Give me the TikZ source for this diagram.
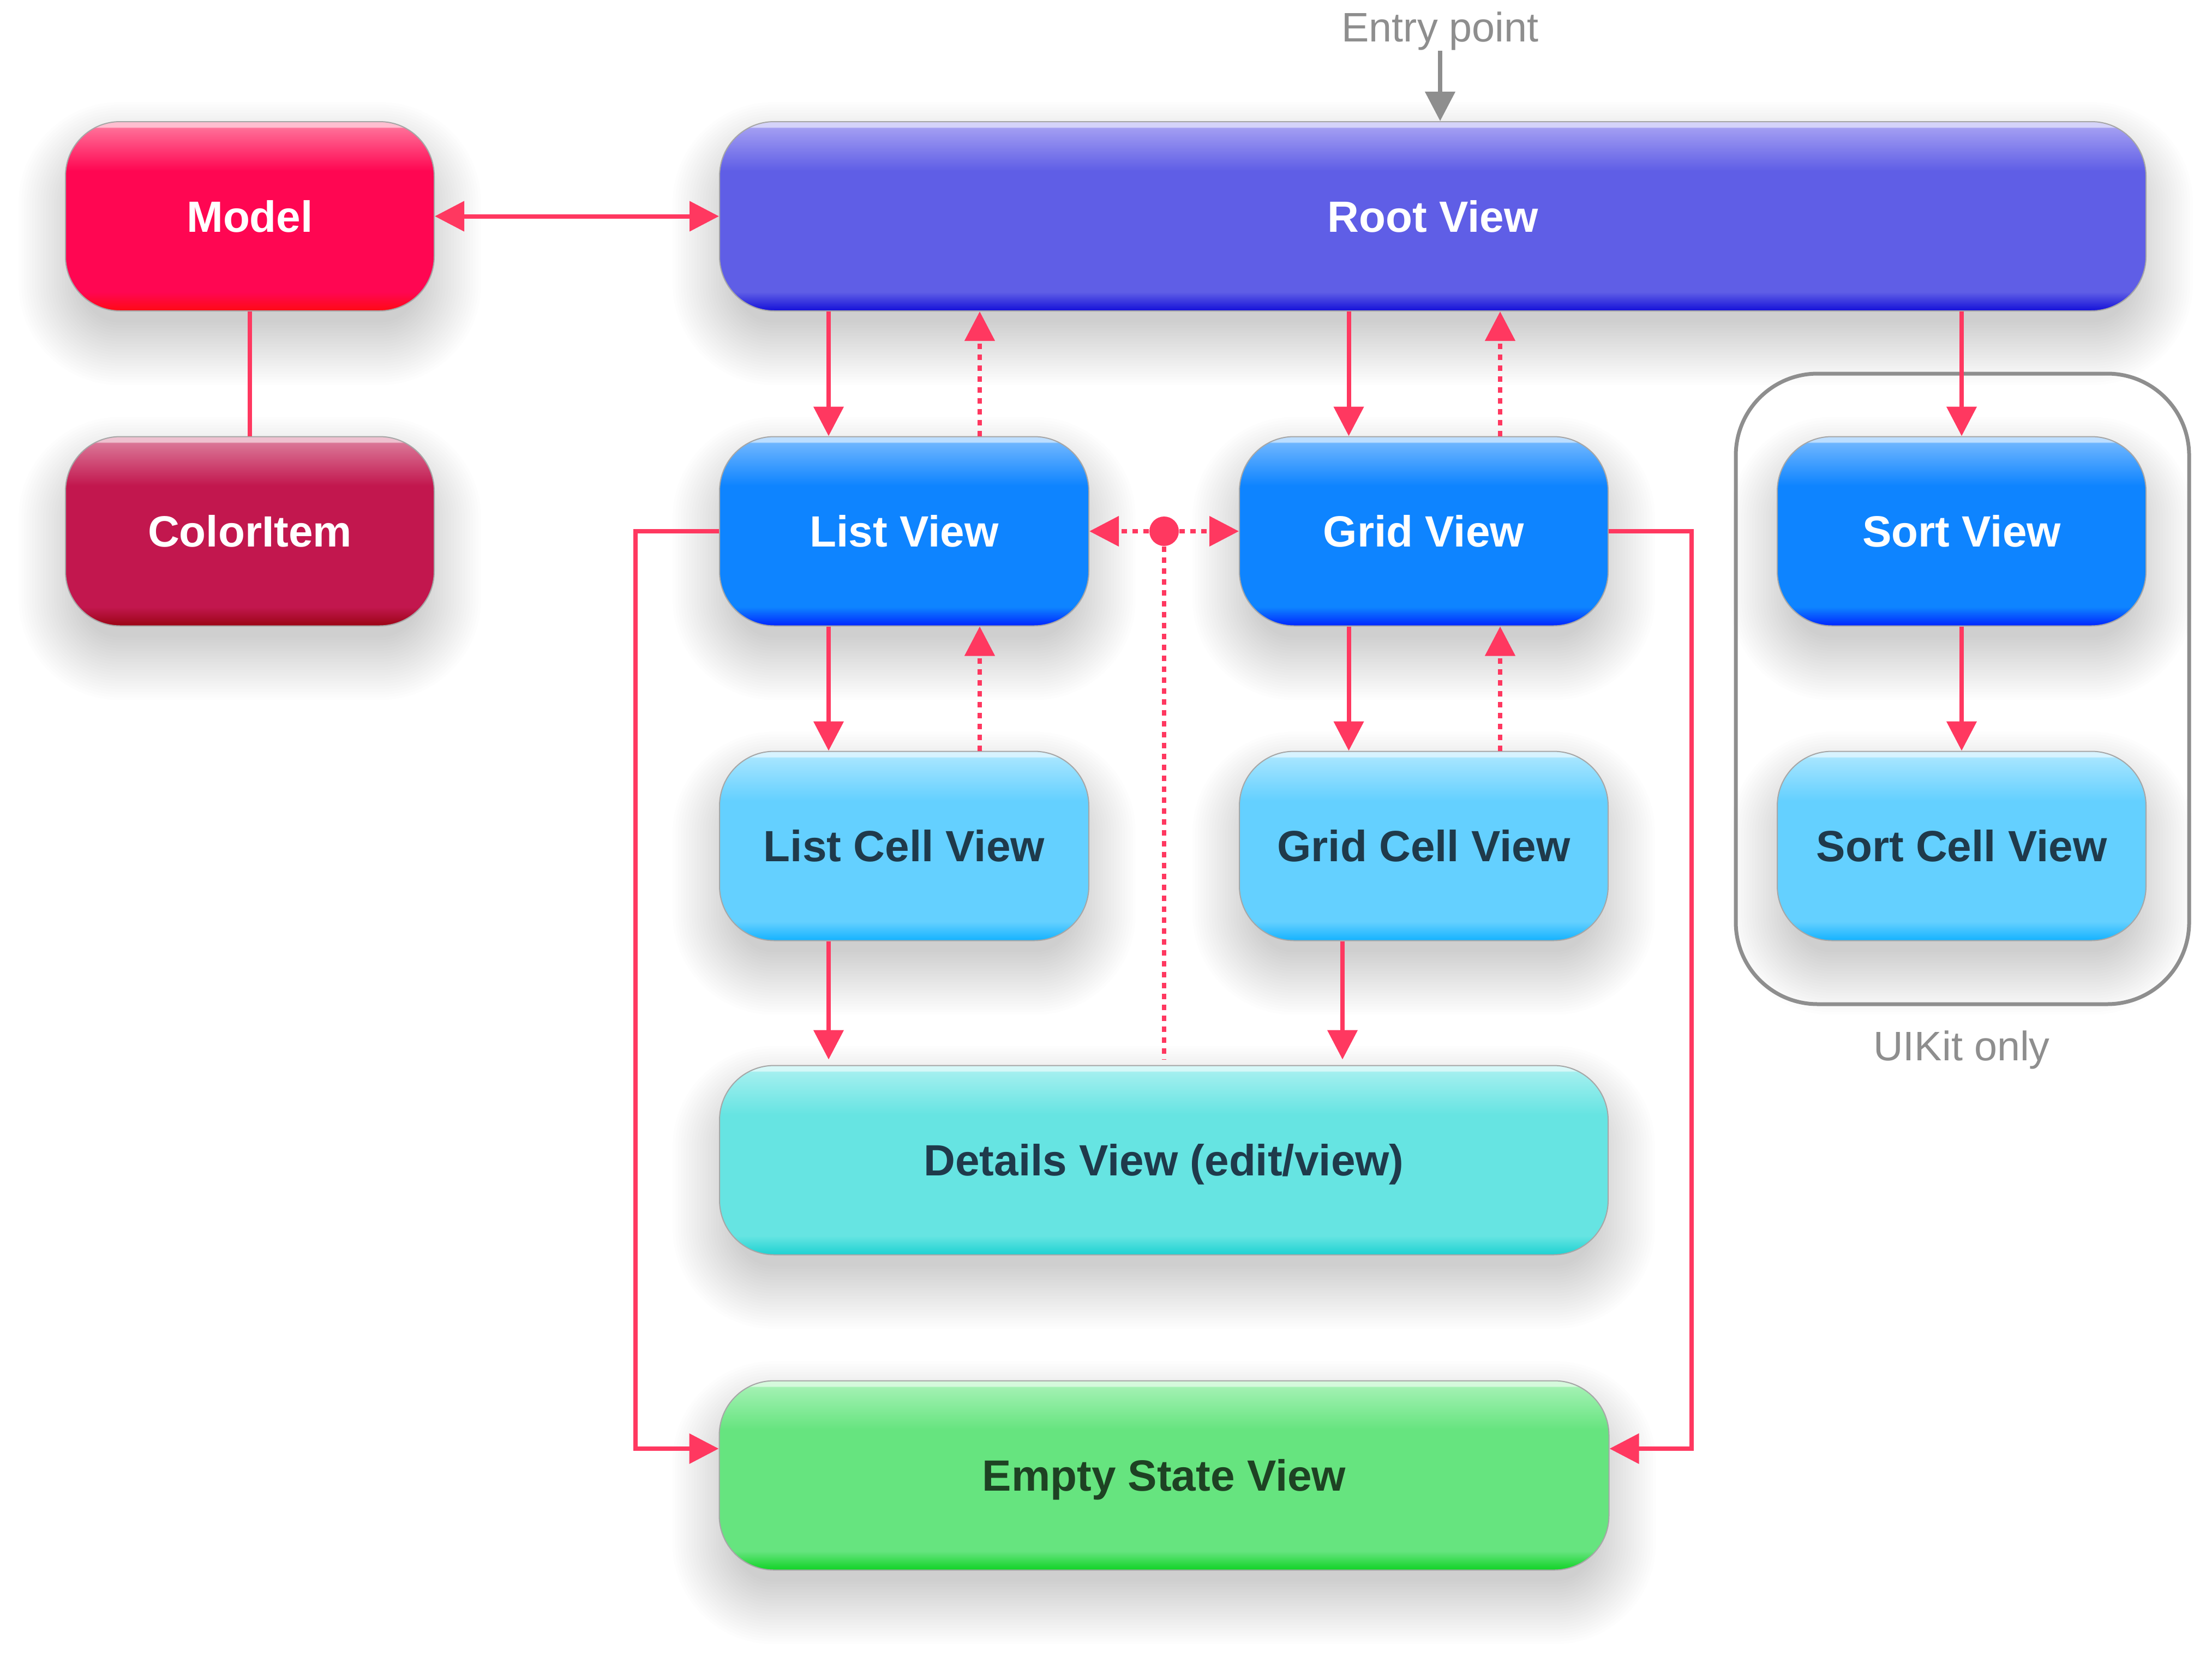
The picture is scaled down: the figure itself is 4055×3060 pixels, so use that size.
\documentclass[tikz,border=0pt]{standalone}
\usepackage{fontspec}
\setmainfont{Liberation Sans}
\usetikzlibrary{arrows.meta,calc}

\definecolor{apink}{HTML}{FF3860}
\definecolor{agray}{HTML}{8E8E8E}
\definecolor{darktxt}{HTML}{1F3A4B}
\definecolor{greentxt}{HTML}{1E4223}

\definecolor{mTop}{HTML}{FF6E97}\definecolor{mMid}{HTML}{FF0652}\definecolor{mBot}{HTML}{FF0A14}
\definecolor{cTop}{HTML}{DA7596}\definecolor{cMid}{HTML}{C2174E}\definecolor{cBot}{HTML}{9B0414}
\definecolor{rTop}{HTML}{A29DF2}\definecolor{rMid}{HTML}{5F5EE6}\definecolor{rBot}{HTML}{1410D8}
\definecolor{bTop}{HTML}{6DB5FF}\definecolor{bMid}{HTML}{0E84FF}\definecolor{bBot}{HTML}{0025FF}
\definecolor{yTop}{HTML}{A6E5FF}\definecolor{yMid}{HTML}{64D0FF}\definecolor{yBot}{HTML}{14B2FF}
\definecolor{tTop}{HTML}{A3EFEF}\definecolor{tMid}{HTML}{66E4E2}\definecolor{tBot}{HTML}{1DD2D2}
\definecolor{gTop}{HTML}{A2F1B2}\definecolor{gMid}{HTML}{66E47F}\definecolor{gBot}{HTML}{10D325}

\newcommand\mkshading[4]{%
  \colorlet{#1hi}{#2!45!white}%
  \pgfdeclareverticalshading{#1}{100bp}{color(0bp)=(#4); color(25bp)=(#4); color(30bp)=(#3); color(62bp)=(#3); color(73.3bp)=(#2); color(73.6bp)=(#1hi); color(100bp)=(#1hi)}}
\mkshading{modelsh}{mTop}{mMid}{mBot}
\mkshading{colorsh}{cTop}{cMid}{cBot}
\mkshading{rootsh}{rTop}{rMid}{rBot}
\mkshading{bluesh}{bTop}{bMid}{bBot}
\mkshading{cyansh}{yTop}{yMid}{yBot}
\mkshading{tealsh}{tTop}{tMid}{tBot}
\mkshading{greensh}{gTop}{gMid}{gBot}

\pgfdeclarelayer{bgwhite}
\pgfdeclarelayer{shadowlayer}
\pgfsetlayers{bgwhite,shadowlayer,main}

\tikzset{
  box/.style={rectangle, rounded corners=10mm, minimum height=34.7mm, inner sep=0pt,
    draw=black!35, line width=0.2mm,
    font=\fontsize{22.8}{27}\selectfont\bfseries, text height=5.7mm, text depth=0pt,
    shade},
  conn/.style={draw=apink, line width=0.8mm, -{Triangle[length=5.4mm,width=5.4mm]}},
  dotconn/.style={conn, dash pattern=on 1mm off 1mm},
  plainline/.style={draw=apink, line width=0.8mm},
  note/.style={font=\fontsize{21.5}{26}\selectfont, text=agray, inner sep=0pt},
  shadowpiece/.style={fill=black, opacity=0.008},
}

\begin{document}
\begin{tikzpicture}[x=0.1mm, y=-0.1mm]
\useasboundingbox (0,0) rectangle (4055,3060);
\begin{pgfonlayer}{bgwhite}
\fill[white] (0,0) rectangle (4055,3060);
\end{pgfonlayer}

% nodes
\node[box, shading=modelsh, text=white, minimum width=67.6mm] (model) at (458,396.5) {Model};
\node[box, shading=colorsh, text=white, minimum width=67.6mm] (coloritem) at (458,974) {ColorItem};
\node[box, shading=rootsh, text=white, minimum width=261.5mm] (root) at (2626.5,396.5) {Root View};
\node[box, shading=bluesh, text=white, minimum width=67.7mm] (list) at (1657.5,974) {List View};
\node[box, shading=bluesh, text=white, minimum width=67.6mm] (grid) at (2610,974) {Grid View};
\node[box, shading=bluesh, text=white, minimum width=67.6mm] (sort) at (3596,974) {Sort View};
\node[box, shading=cyansh, text=darktxt, minimum width=67.7mm] (listcell) at (1657.5,1551) {List Cell View};
\node[box, shading=cyansh, text=darktxt, minimum width=67.6mm] (gridcell) at (2610,1551) {Grid Cell View};
\node[box, shading=cyansh, text=darktxt, minimum width=67.6mm] (sortcell) at (3596,1551) {Sort Cell View};
\node[box, shading=tealsh, text=darktxt, minimum width=162.9mm] (details) at (2133.5,2127) {Details View (edit/view)};
\node[box, shading=greensh, text=greentxt, minimum width=163.1mm] (empty) at (2134,2705) {Empty State View};

% soft shadows under the boxes
\begin{pgfonlayer}{shadowlayer}
\foreach \n in {model,coloritem,root,list,grid,sort,listcell,gridcell,sortcell,details,empty}{
  \foreach \i in {0,...,23}{
    \pgfmathsetmacro\dd{0.5*\i-3}
    \pgfmathsetmacro\mdd{-\dd}
    \pgfmathsetmacro\rr{10+\dd}
    \pgfmathsetmacro\boty{-\dd-5}
    \pgfmathsetmacro\topy{\dd-5}
    \fill[shadowpiece, rounded corners=\rr mm] ([xshift=\mdd mm, yshift=\boty mm]\n.south west) rectangle ([xshift=\dd mm, yshift=\topy mm]\n.north east);
  }
}
\end{pgfonlayer}

% UIKit group
\node[draw=agray, line width=0.7mm, rounded corners=15mm, minimum width=83.1mm, minimum height=115.6mm, inner sep=0pt] (uikit) at (3597.5,1263) {};
\node[note, anchor=base] (uikitlabel) at (3596,1944) {UIKit only};

% entry point
\node[note, anchor=base] (entry) at (2640,77) {Entry point};
\draw[draw=agray, line width=0.8mm, -{Triangle[length=5.4mm,width=5.4mm]}] (entry.south) -- (entry.south |- root.north);

% coordinates for vertical connectors
\coordinate (lA) at ($(list.north)+(-138.5,0)$);
\coordinate (lB) at ($(list.north)+(138.5,0)$);
\coordinate (gA) at ($(grid.north)+(-137.5,0)$);
\coordinate (gB) at ($(grid.north)+(140,0)$);
\coordinate (gC) at ($(grid.north)+(-149,0)$);
\coordinate (eL) at ([yshift=4.9mm]empty.west);
\coordinate (eR) at ([yshift=4.9mm]empty.east);

% model connections
\draw[conn, {Triangle[length=5.4mm,width=5.4mm]}-{Triangle[length=5.4mm,width=5.4mm]}] (model.east) -- (root.west);
\draw[plainline] (model.south) -- (coloritem.north);

% root to children
\draw[conn] (lA |- root.south) -- (lA |- list.north);
\draw[dotconn] (lB |- list.north) -- (lB |- root.south);
\draw[conn] (gA |- root.south) -- (gA |- grid.north);
\draw[dotconn] (gB |- grid.north) -- (gB |- root.south);
\draw[conn] (sort.north |- root.south) -- (sort.north);

% views to cells
\draw[conn] (lA |- list.south) -- (lA |- listcell.north);
\draw[dotconn] (lB |- listcell.north) -- (lB |- list.south);
\draw[conn] (gA |- grid.south) -- (gA |- gridcell.north);
\draw[dotconn] (gB |- gridcell.north) -- (gB |- grid.south);
\draw[conn] (sort.south) -- (sortcell.north);

% cells to details
\draw[conn, shorten >=1mm] (lA |- listcell.south) -- (lA |- details.north);
\draw[conn, shorten >=1mm] (gC |- gridcell.south) -- (gC |- details.north);

% hub between list and grid
\node[circle, fill=apink, minimum size=5.4mm, inner sep=0pt] (hub) at (2134,974) {};
\draw[dotconn] (hub) -- (list.east);
\draw[dotconn] (hub) -- (grid.west);
\draw[plainline, dash pattern=on 1mm off 1mm, shorten >=1mm] (hub) -- (hub |- details.north);

% empty state connections
\draw[conn] (list.west) -- ++(-153,0) |- (eL);
\draw[conn] (grid.east) -- ++(152,0) |- (eR);
\end{tikzpicture}
\end{document}
